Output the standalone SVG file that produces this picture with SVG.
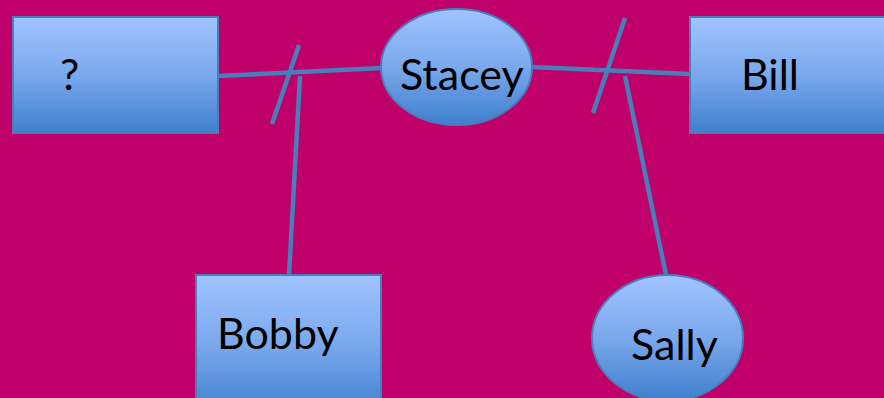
<svg xmlns="http://www.w3.org/2000/svg" width="884" height="398" viewBox="0 0 884 398">
<defs>
<linearGradient id="g" x1="0" y1="0" x2="0" y2="1">
<stop offset="0" stop-color="#a0c4ff"/>
<stop offset="0.5" stop-color="#7aa8ec"/>
<stop offset="1" stop-color="#3f7fcd"/>
</linearGradient>
<style>
.n{fill:url(#g);stroke:#4a7ebb;stroke-width:2}
.t{font-family:Lato,"Liberation Sans",sans-serif;font-size:43px;fill:#000}
.c line{stroke:#4a7ebb;stroke-width:4.5;stroke-linecap:butt}
</style>
</defs>
<rect width="884" height="398" fill="#bf006a"/>
<g class="c" id="connectors">
<line x1="218" y1="76" x2="381" y2="68"/>
<line x1="299" y1="45" x2="272" y2="124"/>
<line x1="300" y1="76" x2="289" y2="275"/>
<line x1="532" y1="67" x2="690" y2="74"/>
<line x1="625" y1="18" x2="593" y2="113"/>
<line x1="625" y1="76" x2="666" y2="275"/>
</g>
<g id="n-unknown"><rect class="n" x="13" y="17" width="205" height="116"/><text class="t" x="60" y="90">?</text></g>
<g id="n-stacey"><ellipse class="n" cx="456.5" cy="67" rx="75.5" ry="58"/><text class="t" x="400" y="90">Stacey</text></g>
<g id="n-bill"><rect class="n" x="690" y="17" width="210" height="116"/><text class="t" x="741" y="90">Bill</text></g>
<g id="n-bobby"><rect class="n" x="196" y="275" width="185" height="140"/><text class="t" x="217" y="349">Bobby</text></g>
<g id="n-sally"><ellipse class="n" cx="667.5" cy="338" rx="75.5" ry="63"/><text class="t" x="631" y="360">Sally</text></g>
</svg>
